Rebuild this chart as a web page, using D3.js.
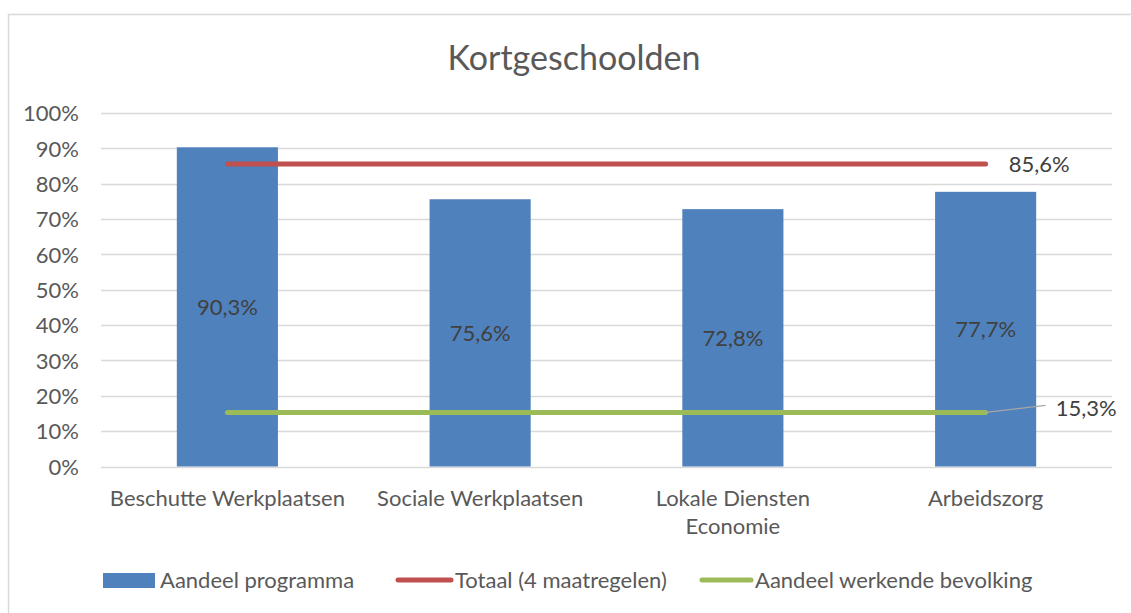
<!DOCTYPE html>
<html><head><meta charset="utf-8">
<script src="https://cdn.jsdelivr.net/npm/d3@7"></script>
<style>
body{margin:0;background:#fff;}
text{font-family:Lato,"Open Sans",sans-serif;fill:#595959;}
</style></head>
<body><svg id="c" width="1131" height="613"></svg>
<script>
const categories = [["Beschutte Werkplaatsen"],["Sociale Werkplaatsen"],["Lokale Diensten","Economie"],["Arbeidszorg"]];
const categoryKeys = ["Beschutte Werkplaatsen","Sociale Werkplaatsen","Lokale Diensten Economie","Arbeidszorg"];
const programmaValues = [90.3, 75.6, 72.8, 77.7];
const totaalValue = 85.6;
const bevolkingValue = 15.3;
const yTicks = [0,10,20,30,40,50,60,70,80,90,100];
const seriesNames = ["Aandeel programma","Totaal (4 maatregelen)","Aandeel werkende bevolking"];
const title = "Kortgeschoolden";
const colors = {bar:"#4F81BD", red:"#C0504D", green:"#9BBB59"};

const FS = "22px";
const svg = d3.select("#c");
svg.append("rect").attr("x",8.5).attr("y",14.5).attr("width",1130).attr("height",610)
  .attr("fill","#fff").attr("stroke","#d9d9d9").attr("stroke-width",1.5);

const x = d3.scaleBand().domain(categoryKeys).range([101,1112]).paddingInner(0.6).paddingOuter(0.3);
const y = d3.scaleLinear().domain([0,100]).range([466.5,113]);
const fmt = v => v.toFixed(1).replace(".",",")+"%";

svg.append("text").attr("x",574).attr("y",58).attr("text-anchor","middle")
  .attr("dy","0.35em").style("font-size","34px").text(title);

// gridlines
svg.append("g").selectAll("line").data(yTicks).join("line")
  .attr("x1",101).attr("x2",1112).attr("y1",d=>Math.round(y(d))+0.5).attr("y2",d=>Math.round(y(d))+0.5)
  .attr("stroke","#d9d9d9").attr("stroke-width",1.5);

// y axis labels
const yAxis = d3.axisLeft(y).tickValues(yTicks).tickFormat(d=>d+"%").tickSize(0).tickPadding(0);
const ya = svg.append("g").attr("transform","translate(79,0)").call(yAxis);
ya.select(".domain").remove();
ya.selectAll("text").style("font-size",FS).style("font-family","Lato").attr("fill","#595959").attr("dy","0.35em");

// bars
svg.append("g").selectAll("rect").data(programmaValues).join("rect")
  .attr("x",(d,i)=>x(categoryKeys[i])).attr("width",x.bandwidth())
  .attr("y",d=>y(d)).attr("height",d=>y(0)-y(d)).attr("fill",colors.bar);

svg.append("g").selectAll("text").data(programmaValues).join("text")
  .attr("x",(d,i)=>x(categoryKeys[i])+x.bandwidth()/2).attr("y",d=>(y(d)+y(0))/2)
  .attr("text-anchor","middle").attr("dy","0.35em").style("font-size",FS).style("fill","#404040")
  .text(fmt);

// category labels
const cx = k => x(k)+x.bandwidth()/2;
const cg = svg.append("g");
categories.forEach((lines,i)=>{
  const t = cg.append("text").attr("x",cx(categoryKeys[i])).attr("y",498).attr("text-anchor","middle")
    .style("font-size",FS);
  lines.forEach((l,j)=>t.append("tspan").attr("x",cx(categoryKeys[i])).attr("dy",j===0?"0.35em":"28px").text(l));
});

// lines
const xs = [cx(categoryKeys[0]), cx(categoryKeys[3])];
svg.append("line").attr("x1",xs[0]).attr("x2",xs[1]).attr("y1",y(totaalValue)).attr("y2",y(totaalValue))
  .attr("stroke",colors.red).attr("stroke-width",5).attr("stroke-linecap","round");
svg.append("line").attr("x1",xs[0]).attr("x2",xs[1]).attr("y1",y(bevolkingValue)).attr("y2",y(bevolkingValue))
  .attr("stroke",colors.green).attr("stroke-width",5).attr("stroke-linecap","round");

svg.append("text").attr("x",xs[1]+23).attr("y",y(totaalValue)).attr("dy","0.35em")
  .style("font-size",FS).style("fill","#404040").text(fmt(totaalValue));
svg.append("line").attr("x1",xs[1]).attr("y1",y(bevolkingValue)).attr("x2",xs[1]+60).attr("y2",y(bevolkingValue)-7)
  .attr("stroke","#a6a6a6").attr("stroke-width",1.3);
svg.append("text").attr("x",xs[1]+70).attr("y",y(bevolkingValue)-4).attr("dy","0.35em")
  .style("font-size",FS).style("fill","#404040").text(fmt(bevolkingValue));

// legend
const lg = svg.append("g");
lg.append("rect").attr("x",103).attr("y",573).attr("width",52).attr("height",15).attr("fill",colors.bar);
lg.append("text").attr("x",160).attr("y",580).attr("dy","0.35em").style("font-size",FS).text(seriesNames[0]);
lg.append("line").attr("x1",398).attr("x2",451).attr("y1",580).attr("y2",580).attr("stroke",colors.red).attr("stroke-width",5).attr("stroke-linecap","round");
lg.append("text").attr("x",455).attr("y",580).attr("dy","0.35em").style("font-size",FS).text(seriesNames[1]);
lg.append("line").attr("x1",702).attr("x2",751).attr("y1",580).attr("y2",580).attr("stroke",colors.green).attr("stroke-width",5).attr("stroke-linecap","round");
lg.append("text").attr("x",755).attr("y",580).attr("dy","0.35em").style("font-size",FS).text(seriesNames[2]);
</script></body></html>
